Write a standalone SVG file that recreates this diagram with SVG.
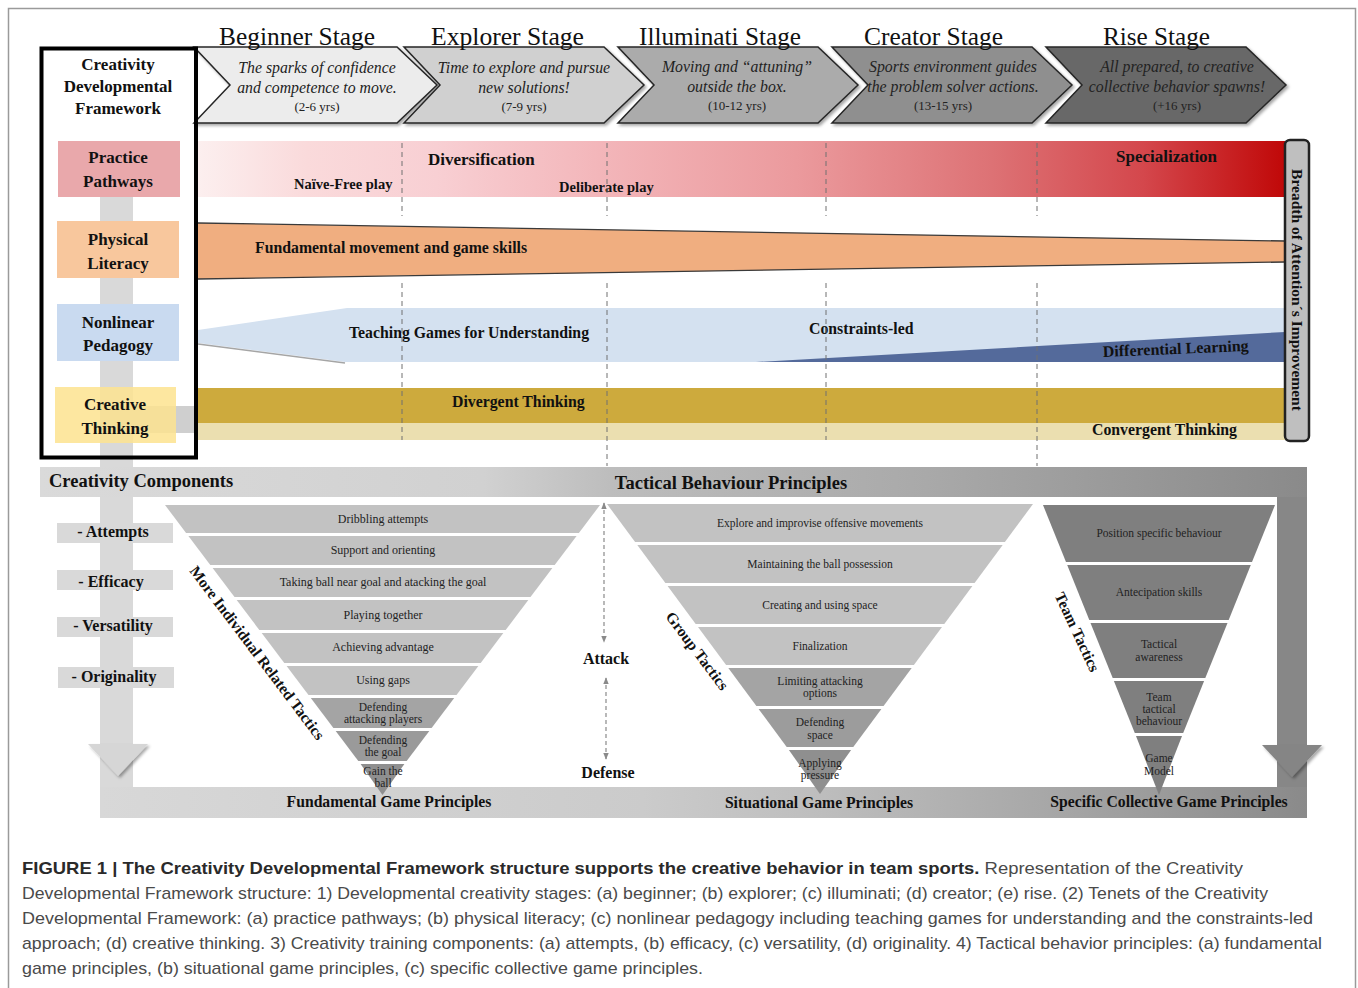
<svg xmlns="http://www.w3.org/2000/svg" width="1358" height="988" viewBox="0 0 1358 988">
<style>
.t{font-family:"Liberation Serif","Times New Roman",serif;fill:#111}
.b{font-weight:bold}
.title{font-size:26px;fill:#111}
.it{font-style:italic;font-size:15.8px;fill:#222}
.yrs{font-size:13px;fill:#222}
.lab{font-size:17px;font-weight:bold}
.bd{font-size:15.8px;font-weight:bold}
.tr{font-size:12px;fill:#222}
.tr2{font-size:11.5px;fill:#222}
.dash{stroke:#707070;stroke-width:1;stroke-dasharray:5 4;fill:none}
.chev{stroke:#262626;stroke-width:1.5}
.cap{font-family:"Liberation Sans",Arial,sans-serif;font-size:17px;fill:#4a4a4a}
.capb{font-weight:bold;fill:#2a2a2a}
.s1{fill:#c2c2c2}
.s2{fill:#a4a4a4}
.s3{fill:#8f8f8f}
.s4{fill:#7f7f7f}
</style>
<defs>
<filter id="sh" x="-10%" y="-10%" width="130%" height="140%">
<feDropShadow dx="2" dy="2" stdDeviation="1.5" flood-color="#000" flood-opacity="0.35"/>
</filter>
<linearGradient id="gPract" x1="198" y1="0" x2="1285" y2="0" gradientUnits="userSpaceOnUse">
<stop offset="0" stop-color="#fcefef"/>
<stop offset="0.1" stop-color="#fadadb"/>
<stop offset="0.22" stop-color="#f8cfd3"/>
<stop offset="0.37" stop-color="#f3b6ba"/>
<stop offset="0.55" stop-color="#eb9a9d"/>
<stop offset="0.73" stop-color="#dd7275"/>
<stop offset="0.87" stop-color="#d4474c"/>
<stop offset="1" stop-color="#c00808"/>
</linearGradient>
<linearGradient id="gTop" x1="40" y1="0" x2="1307" y2="0" gradientUnits="userSpaceOnUse">
<stop offset="0" stop-color="#dadada"/>
<stop offset="0.35" stop-color="#d1d1d1"/>
<stop offset="0.45" stop-color="#bdbdbd"/>
<stop offset="0.7" stop-color="#a9a9a9"/>
<stop offset="1" stop-color="#8a8a8a"/>
</linearGradient>
<linearGradient id="gBot" x1="100" y1="0" x2="1307" y2="0" gradientUnits="userSpaceOnUse">
<stop offset="0" stop-color="#d8d8d8"/>
<stop offset="0.45" stop-color="#cbcbcb"/>
<stop offset="0.6" stop-color="#bdbdbd"/>
<stop offset="0.78" stop-color="#a8a8a8"/>
<stop offset="1" stop-color="#8a8a8a"/>
</linearGradient>
<marker id="ah" viewBox="0 0 10 10" refX="9" refY="5" markerWidth="7" markerHeight="7" orient="auto-start-reverse" markerUnits="userSpaceOnUse">
<path d="M0,1 L10,5 L0,9 z" fill="#8a8a8a"/>
</marker>
</defs>

<rect x="0" y="0" width="1358" height="988" fill="#fff"/>
<rect x="8.5" y="8.5" width="1347" height="995" fill="none" stroke="#9a9a9a" stroke-width="1.5"/>

<!-- background frame bars -->
<g id="bars">
<rect x="100" y="197" width="33" height="621" fill="#d9d9d9"/>
<rect x="100" y="406" width="96" height="27" fill="#cfcfcf"/>
<rect x="1277" y="467" width="30" height="351" fill="#878787"/>
<rect x="40" y="467" width="1267" height="30" fill="url(#gTop)"/>
<rect x="100" y="787" width="1207" height="31" fill="url(#gBot)"/>
<polygon points="88,744 148,744 118,776" fill="#d6d6d6" filter="url(#sh)"/>
<polygon points="1262,745 1322,745 1292,777" fill="#858585" filter="url(#sh)"/>
</g>

<!-- stages -->
<g id="stage-beginner">
<polygon class="chev" points="194,47 397,47 437,85 397,123 194,123 230,85" fill="#ececec" filter="url(#sh)"/>
<text class="t title" x="219" y="45" textLength="156" lengthAdjust="spacingAndGlyphs">Beginner Stage</text>
<text class="t it" x="317" y="73" text-anchor="middle">The sparks of confidence</text>
<text class="t it" x="317" y="93" text-anchor="middle">and competence to move.</text>
<text class="t yrs" x="317" y="111" text-anchor="middle">(2-6 yrs)</text>
</g>
<g id="stage-explorer">
<polygon class="chev" points="404,47 604,47 644,85 604,123 404,123 440,85" fill="#d0d0d0" filter="url(#sh)"/>
<text class="t title" x="431" y="45" textLength="153" lengthAdjust="spacingAndGlyphs">Explorer Stage</text>
<text class="t it" x="524" y="73" text-anchor="middle">Time to explore and pursue</text>
<text class="t it" x="524" y="93" text-anchor="middle">new solutions!</text>
<text class="t yrs" x="524" y="111" text-anchor="middle">(7-9 yrs)</text>
</g>
<g id="stage-illuminati">
<polygon class="chev" points="618,47 818,47 858,85 818,123 618,123 654,85" fill="#ababab" filter="url(#sh)"/>
<text class="t title" x="639" y="45" textLength="162" lengthAdjust="spacingAndGlyphs">Illuminati Stage</text>
<text class="t it" x="737" y="72" text-anchor="middle">Moving and “attuning”</text>
<text class="t it" x="737" y="92" text-anchor="middle">outside the box.</text>
<text class="t yrs" x="737" y="110" text-anchor="middle">(10-12 yrs)</text>
</g>
<g id="stage-creator">
<polygon class="chev" points="832,47 1032,47 1072,85 1032,123 832,123 868,85" fill="#8f8f8f" filter="url(#sh)"/>
<text class="t title" x="864" y="45" textLength="139" lengthAdjust="spacingAndGlyphs">Creator Stage</text>
<text class="t it" x="953" y="72" text-anchor="middle">Sports environment guides</text>
<text class="t it" x="953" y="92" text-anchor="middle">the problem solver actions.</text>
<text class="t yrs" x="943" y="110" text-anchor="middle">(13-15 yrs)</text>
</g>
<g id="stage-rise">
<polygon class="chev" points="1046,47 1246,47 1286,85 1246,123 1046,123 1082,85" fill="#676767" filter="url(#sh)"/>
<text class="t title" x="1103" y="45" textLength="107" lengthAdjust="spacingAndGlyphs">Rise Stage</text>
<text class="t it" x="1177" y="72" text-anchor="middle">All prepared, to creative</text>
<text class="t it" x="1177" y="92" text-anchor="middle">collective behavior spawns!</text>
<text class="t yrs" x="1177" y="110" text-anchor="middle">(+16 yrs)</text>
</g>

<!-- bands -->
<g id="band-practice">
<rect x="198" y="141" width="1087" height="56" fill="url(#gPract)"/>
<text class="t b" font-size="17" x="428" y="165">Diversification</text>
<text class="t b" font-size="14.5" x="294" y="189">Naïve-Free play</text>
<text class="t b" font-size="14.5" x="559" y="192">Deliberate play</text>
<text class="t b" font-size="17" x="1116" y="162">Specialization</text>
</g>
<g id="band-physical">
<polygon points="198,223 1285,241 1285,262 198,279" fill="#f0ae80"/>
<line x1="198" y1="223" x2="1285" y2="241" stroke="#3a3a3a" stroke-width="1.3"/>
<line x1="198" y1="279" x2="1285" y2="262" stroke="#3a3a3a" stroke-width="1.3"/>
<text class="t bd" x="255" y="253">Fundamental movement and game skills</text>
</g>
<g id="band-nonlinear">
<polygon points="198,330 347,308 1285,308 1285,362 345,362 198,343" fill="#d4e1f0"/>
<line x1="198" y1="344" x2="345" y2="363" stroke="#a5a5a5" stroke-width="1.6"/>
<polygon points="756,362 1285,332 1285,362" fill="#546a9b"/>
<text class="t bd" x="349" y="338">Teaching Games for Understanding</text>
<text class="t bd" x="809" y="334">Constraints-led</text>
<text class="t b" font-size="16" x="1103" y="357" transform="rotate(-2.4 1103 357)">Differential Learning</text>
</g>
<g id="band-creative">
<rect x="196" y="388" width="1089" height="35" fill="#cdaa3d"/>
<rect x="196" y="423" width="1089" height="17" fill="#ebdfb0"/>
<text class="t bd" x="452" y="407">Divergent Thinking</text>
<text class="t bd" x="1092" y="435">Convergent Thinking</text>
</g>

<!-- stage dividers -->
<g id="dividers">
<line class="dash" x1="402" y1="143" x2="402" y2="216"/>
<line class="dash" x1="402" y1="283" x2="402" y2="440"/>
<line class="dash" x1="607" y1="143" x2="607" y2="216"/>
<line class="dash" x1="607" y1="283" x2="607" y2="466"/>
<line class="dash" x1="826" y1="143" x2="826" y2="216"/>
<line class="dash" x1="826" y1="283" x2="826" y2="440"/>
<line class="dash" x1="1037" y1="143" x2="1037" y2="216"/>
<line class="dash" x1="1037" y1="283" x2="1037" y2="466"/>
</g>

<g id="breadth">
<rect x="1285" y="140" width="24" height="301" rx="5" fill="#bfbfbf" stroke="#222" stroke-width="2.5"/>
<text class="t b" font-size="15.5" x="1297" y="290" text-anchor="middle" transform="rotate(90 1297 290) translate(0 5)">Breadth of Attention´s Improvement</text>
</g>

<!-- left labels -->
<g id="label-practice">
<rect x="58" y="141" width="122" height="56" fill="#e9a8ab"/>
<text class="t lab" x="118" y="163" text-anchor="middle">Practice</text>
<text class="t lab" x="118" y="187" text-anchor="middle">Pathways</text>
</g>
<g id="label-physical">
<rect x="57" y="221" width="122" height="57" fill="#f8c79d"/>
<text class="t lab" x="118" y="245" text-anchor="middle">Physical</text>
<text class="t lab" x="118" y="269" text-anchor="middle">Literacy</text>
</g>
<g id="label-nonlinear">
<rect x="57" y="304" width="122" height="57" fill="#c9daf0"/>
<text class="t lab" x="118" y="328" text-anchor="middle">Nonlinear</text>
<text class="t lab" x="118" y="351" text-anchor="middle">Pedagogy</text>
</g>
<g id="label-creative">
<rect x="55" y="387" width="121" height="56" fill="#fde38f" opacity="0.85"/>
<text class="t lab" x="115" y="410" text-anchor="middle">Creative</text>
<text class="t lab" x="115" y="434" text-anchor="middle">Thinking</text>
</g>
<g id="framework">
<rect x="41.5" y="48.5" width="154.5" height="409" fill="none" stroke="#000" stroke-width="4"/>
<text class="t lab" x="118" y="70" text-anchor="middle">Creativity</text>
<text class="t lab" x="118" y="92" text-anchor="middle">Developmental</text>
<text class="t lab" x="118" y="114" text-anchor="middle">Framework</text>
</g>

<!-- bar labels -->
<g id="bar-labels">
<text class="t b" font-size="18.5" x="49" y="487">Creativity Components</text>
<text class="t b" font-size="18.5" x="731" y="489" text-anchor="middle">Tactical Behaviour Principles</text>
<text class="t b" font-size="15.7" x="389" y="807" text-anchor="middle">Fundamental Game Principles</text>
<text class="t b" font-size="15.7" x="819" y="808" text-anchor="middle">Situational Game Principles</text>
<text class="t b" font-size="15.7" x="1169" y="807" text-anchor="middle">Specific Collective Game Principles</text>
</g>

<!-- components -->
<g id="comp-attempts"><rect x="57" y="523" width="116" height="20" fill="#d9d9d9"/><text class="t b" font-size="16" x="113" y="537" text-anchor="middle">- Attempts</text></g>
<g id="comp-efficacy"><rect x="57" y="570" width="116" height="20" fill="#d9d9d9"/><text class="t b" font-size="16" x="111" y="587" text-anchor="middle">- Efficacy</text></g>
<g id="comp-versatility"><rect x="57" y="617" width="116" height="20" fill="#d9d9d9"/><text class="t b" font-size="16" x="113" y="631" text-anchor="middle">- Versatility</text></g>
<g id="comp-originality"><rect x="58" y="667" width="116" height="21" fill="#d9d9d9"/><text class="t b" font-size="16" x="114" y="682" text-anchor="middle">- Originality</text></g>

<!-- triangle 1 -->
<g id="tri-individual">
<polygon class="s1" points="165,505 600,505 578.9,533 186.1,533"/>
<polygon class="s1" points="188.4,536 576.6,536 554.7,565 210.3,565"/>
<polygon class="s1" points="212.6,568 552.4,568 530.5,597 234.5,597"/>
<polygon class="s1" points="236.7,600 528.3,600 505.7,630 259.3,630"/>
<polygon class="s1" points="261.7,633 503.3,633 480.7,663 284.3,663"/>
<polygon class="s1" points="286.6,666 478.4,666 456.5,695 308.5,695"/>
<polygon class="s2" points="310.8,698 454.2,698 431.6,728 333.4,728"/>
<polygon fill="#9a9a9a" points="335.7,731 429.3,731 406.7,761 358.3,761"/>
<polygon class="s3" points="360.6,764 404.4,764 382.5,795"/>
<text class="t tr" x="383" y="523" text-anchor="middle">Dribbling attempts</text>
<text class="t tr" x="383" y="554" text-anchor="middle">Support and orienting</text>
<text class="t tr" x="383" y="586" text-anchor="middle">Taking ball near goal and atacking the goal</text>
<text class="t tr" x="383" y="619" text-anchor="middle">Playing together</text>
<text class="t tr" x="383" y="651" text-anchor="middle">Achieving advantage</text>
<text class="t tr" x="383" y="684" text-anchor="middle">Using gaps</text>
<text class="t tr2" x="383" y="711" text-anchor="middle">Defending</text>
<text class="t tr2" x="383" y="723" text-anchor="middle">attacking players</text>
<text class="t tr2" x="383" y="744" text-anchor="middle">Defending</text>
<text class="t tr2" x="383" y="756" text-anchor="middle">the goal</text>
<text class="t tr2" x="383" y="775" text-anchor="middle">Gain the</text>
<text class="t tr2" x="383" y="787" text-anchor="middle">ball</text>
<text class="t b" font-size="15.5" x="257" y="658" text-anchor="middle" transform="rotate(53 257 653)">More Individual Related Tactics</text>
</g>

<!-- triangle 2 -->
<g id="tri-group">
<polygon class="s1" points="607,504 1033,504 1004.9,542 635.1,542"/>
<polygon class="s1" points="637.3,545 1002.7,545 974.6,583 665.4,583"/>
<polygon class="s1" points="667.6,586 972.4,586 944.3,624 695.7,624"/>
<polygon class="s1" points="698,627 942,627 913.9,665 726.1,665"/>
<polygon class="s2" points="728.3,668 911.7,668 883.6,706 756.4,706"/>
<polygon fill="#9c9c9c" points="758.6,709 881.4,709 853.3,747 786.7,747"/>
<polygon class="s3" points="788.9,750 851.1,750 820,794"/>
<text class="t tr2" x="820" y="527" text-anchor="middle">Explore and improvise offensive movements</text>
<text class="t tr2" x="820" y="568" text-anchor="middle">Maintaining the ball possession</text>
<text class="t tr2" x="820" y="609" text-anchor="middle">Creating and using space</text>
<text class="t tr2" x="820" y="650" text-anchor="middle">Finalization</text>
<text class="t tr2" x="820" y="685" text-anchor="middle">Limiting attacking</text>
<text class="t tr2" x="820" y="697" text-anchor="middle">options</text>
<text class="t tr2" x="820" y="726" text-anchor="middle">Defending</text>
<text class="t tr2" x="820" y="739" text-anchor="middle">space</text>
<text class="t tr2" x="820" y="767" text-anchor="middle">Applying</text>
<text class="t tr2" x="820" y="779" text-anchor="middle">pressure</text>
<text class="t b" font-size="15.5" x="697" y="656" text-anchor="middle" transform="rotate(53 697 651)">Group Tactics</text>
</g>

<!-- triangle 3 -->
<g id="tri-team">
<polygon class="s4" points="1043,505 1275,505 1252,562 1066,562"/>
<polygon class="s4" points="1067.2,565 1250.8,565 1228.7,620 1089.3,620"/>
<polygon class="s4" points="1090.5,623 1227.5,623 1205.3,678 1112.7,678"/>
<polygon class="s4" points="1113.9,681 1204.1,681 1183.2,733 1134.8,733"/>
<polygon class="s4" points="1136,736 1182,736 1159,795"/>
<text class="t tr2" x="1159" y="537" text-anchor="middle">Position specific behaviour</text>
<text class="t tr2" x="1159" y="596" text-anchor="middle">Antecipation skills</text>
<text class="t tr2" x="1159" y="648" text-anchor="middle">Tactical</text>
<text class="t tr2" x="1159" y="661" text-anchor="middle">awareness</text>
<text class="t tr2" x="1159" y="701" text-anchor="middle">Team</text>
<text class="t tr2" x="1159" y="713" text-anchor="middle">tactical</text>
<text class="t tr2" x="1159" y="725" text-anchor="middle">behaviour</text>
<text class="t tr2" x="1159" y="762" text-anchor="middle">Game</text>
<text class="t tr2" x="1159" y="775" text-anchor="middle">Model</text>
<text class="t b" font-size="15.5" x="1077" y="637" text-anchor="middle" transform="rotate(65 1077 632)">Team Tactics</text>
</g>

<!-- connectors -->
<g id="connectors">
<line x1="604" y1="503" x2="604" y2="642" stroke="#8a8a8a" stroke-width="1.2" stroke-dasharray="4 3" marker-start="url(#ah)" marker-end="url(#ah)"/>
<line x1="606" y1="678" x2="606" y2="759" stroke="#8a8a8a" stroke-width="1.2" stroke-dasharray="4 3" marker-start="url(#ah)" marker-end="url(#ah)"/>
</g>
<g id="attack-defense">
<text class="t b" font-size="16" x="606" y="664" text-anchor="middle">Attack</text>
<text class="t b" font-size="16" x="608" y="778" text-anchor="middle">Defense</text>
</g>

<!-- caption -->
<g id="caption">
<text class="cap" x="22" y="874" textLength="1221" lengthAdjust="spacingAndGlyphs"><tspan class="capb">FIGURE 1 | The Creativity Developmental Framework structure supports the creative behavior in team sports.</tspan> Representation of the Creativity</text>
<text class="cap" x="22" y="899" textLength="1246" lengthAdjust="spacingAndGlyphs">Developmental Framework structure: 1) Developmental creativity stages: (a) beginner; (b) explorer; (c) illuminati; (d) creator; (e) rise. (2) Tenets of the Creativity</text>
<text class="cap" x="22" y="924" textLength="1291" lengthAdjust="spacingAndGlyphs">Developmental Framework: (a) practice pathways; (b) physical literacy; (c) nonlinear pedagogy including teaching games for understanding and the constraints-led</text>
<text class="cap" x="22" y="949" textLength="1300" lengthAdjust="spacingAndGlyphs">approach; (d) creative thinking. 3) Creativity training components: (a) attempts, (b) efficacy, (c) versatility, (d) originality. 4) Tactical behavior principles: (a) fundamental</text>
<text class="cap" x="22" y="974" textLength="681" lengthAdjust="spacingAndGlyphs">game principles, (b) situational game principles, (c) specific collective game principles.</text>
</g>
</svg>
